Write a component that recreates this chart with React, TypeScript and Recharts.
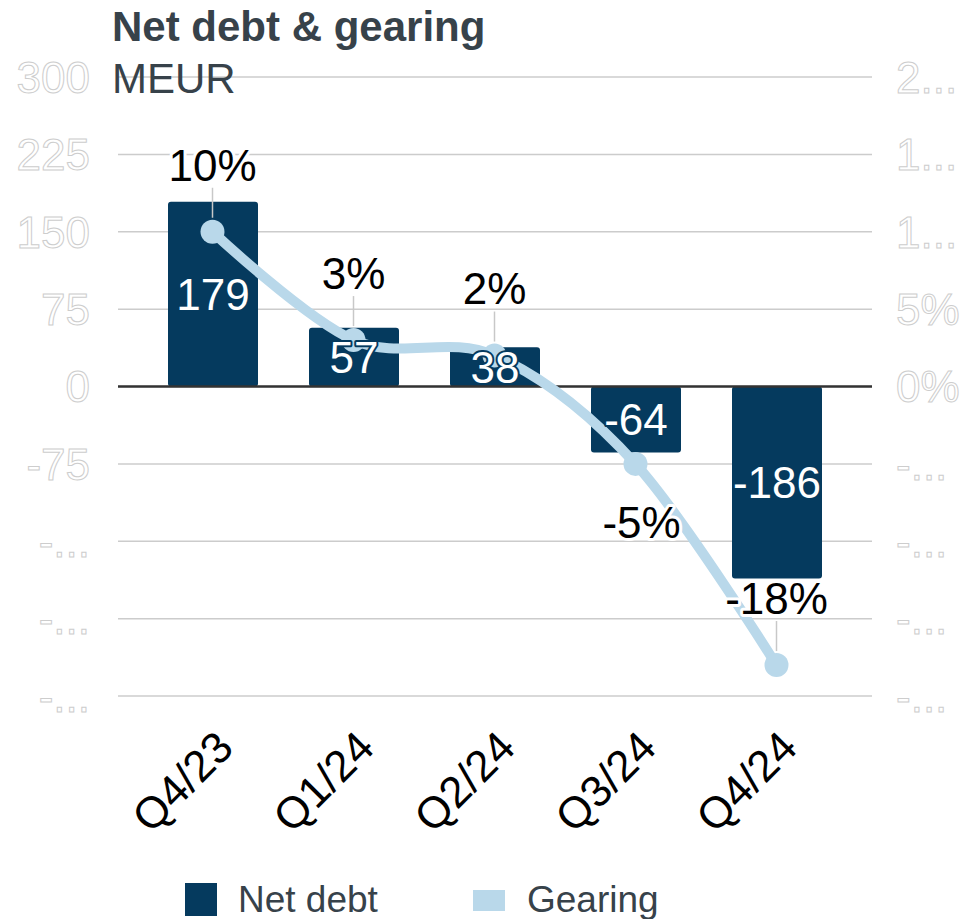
import React from 'react';
import {
  ComposedChart,
  Bar,
  Line,
  XAxis,
  YAxis,
  CartesianGrid,
  ReferenceLine,
  LabelList,
} from 'recharts';

const categories = ['Q4/23', 'Q1/24', 'Q2/24', 'Q3/24', 'Q4/24'];
const netDebt = [179, 57, 38, -64, -186];
const gearing = [10, 3, 2, -5, -18];

const leftTicks = [300, 225, 150, 75, 0, -75, -150, -225, -300];
const leftTickLabels = ['300', '225', '150', '75', '0', '-75', '-...', '-...', '-...'];
const rightTicks = [20, 15, 10, 5, 0, -5, -10, -15, -20];
const rightTickLabels = ['2...', '1...', '1...', '5%', '0%', '-...', '-...', '-...', '-...'];

const data = categories.map((cat, i) => ({
  cat,
  netDebt: netDebt[i],
  gearing: gearing[i],
}));

const NAVY = '#053a5e';
const LIGHT = '#b9d8ea';
const TEXT = '#37424a';
const FONT = '"Liberation Sans", Arial, sans-serif';

// Catmull-Rom style smoothing (like d3 curveCardinal with tension 0)
function smoothCurve(context: any) {
  const k = 1 / 6;
  const s: any = {
    _context: context,
    _line: NaN,
    _point: 0,
    _x0: NaN, _x1: NaN, _x2: NaN, _y0: NaN, _y1: NaN, _y2: NaN,
  };
  const seg = (x: number, y: number) => {
    s._context.bezierCurveTo(
      s._x1 + k * (s._x2 - s._x0),
      s._y1 + k * (s._y2 - s._y0),
      s._x2 + k * (s._x1 - x),
      s._y2 + k * (s._y1 - y),
      s._x2,
      s._y2
    );
  };
  s.areaStart = () => { s._line = 0; };
  s.areaEnd = () => { s._line = NaN; };
  s.lineStart = () => {
    s._x0 = s._x1 = s._x2 = s._y0 = s._y1 = s._y2 = NaN;
    s._point = 0;
  };
  s.lineEnd = () => {
    switch (s._point) {
      case 2: s._context.lineTo(s._x2, s._y2); break;
      case 3: seg(s._x1, s._y1); break;
    }
    if (s._line || (s._line !== 0 && s._point === 1)) s._context.closePath();
    s._line = 1 - s._line;
  };
  s.point = (xIn: number, yIn: number) => {
    const x = +xIn;
    const y = +yIn;
    switch (s._point) {
      case 0:
        s._point = 1;
        if (s._line) s._context.lineTo(x, y); else s._context.moveTo(x, y);
        break;
      case 1:
        s._point = 2;
        s._x1 = x; s._y1 = y;
        break;
      case 2:
        s._point = 3;
        seg(x, y);
        break;
      default:
        seg(x, y);
        break;
    }
    s._x0 = s._x1; s._x1 = s._x2; s._x2 = x;
    s._y0 = s._y1; s._y1 = s._y2; s._y2 = y;
  };
  return s;
}

const LeftTick = (props: any) => {
  const { x, y, payload } = props;
  const idx = leftTicks.indexOf(payload.value);
  return (
    <text
      x={x - 28}
      y={y}
      dy="0.36em"
      textAnchor="end"
      fontSize={44}
      fontFamily={FONT}
      fill="#ffffff"
      stroke="#cdcdcd"
      strokeWidth={1}
    >
      {leftTickLabels[idx]}
    </text>
  );
};

const RightTick = (props: any) => {
  const { x, y, payload } = props;
  const idx = rightTicks.indexOf(payload.value);
  return (
    <text
      x={x + 24}
      y={y}
      dy="0.36em"
      textAnchor="start"
      fontSize={44}
      fontFamily={FONT}
      fill="#ffffff"
      stroke="#cdcdcd"
      strokeWidth={1}
    >
      {rightTickLabels[idx]}
    </text>
  );
};

const XTick = (props: any) => {
  const { x, y, payload } = props;
  return (
    <text
      transform={`translate(${x + 23},${y + 54}) rotate(-45)`}
      textAnchor="end"
      fontSize={44}
      fontFamily={FONT}
      fill="#000000"
    >
      {payload.value}
    </text>
  );
};

const BarLabel = (props: any) => {
  const { x, y, width, height, value } = props;
  return (
    <text
      x={x + width / 2}
      y={y + height / 2}
      dy="0.36em"
      textAnchor="middle"
      fontSize={44}
      fontFamily={FONT}
      fill="#ffffff"
      stroke={NAVY}
      strokeWidth={4}
      paintOrder="stroke"
      strokeLinejoin="round"
    >
      {value}
    </text>
  );
};

const GearingLabel = (props: any) => {
  const { x, y, value, index } = props;
  const below = index === 3;
  const ty = below ? y + 58 : y - 67;
  return (
    <g>
      {!below && (
        <line x1={x} x2={x} y1={ty + 23} y2={y - 14} stroke="#c8c8c8" strokeWidth={1.5} />
      )}
      <text
        x={x + (below ? 6 : 0)}
        y={ty}
        dy="0.36em"
        textAnchor="middle"
        fontSize={44}
        fontFamily={FONT}
        fill="#000000"
        stroke="#ffffff"
        strokeWidth={6}
        paintOrder="stroke"
        strokeLinejoin="round"
      >
        {`${value}%`}
      </text>
    </g>
  );
};

export default function App() {
  return (
    <div
      style={{
        position: 'absolute',
        left: 0,
        top: 0,
        width: 971,
        height: 919,
        background: '#ffffff',
        fontFamily: FONT,
        overflow: 'hidden',
      }}
    >
      <ComposedChart
        width={971}
        height={919}
        data={data}
        margin={{ top: 77, right: 0, bottom: 73, left: 0 }}
      >
        <CartesianGrid
          vertical={false}
          stroke="#cccccc"
          strokeWidth={1.5}
          yAxisId="left"
        />
        <XAxis
          dataKey="cat"
          interval={0}
          axisLine={false}
          tickLine={false}
          tickSize={0}
          tickMargin={0}
          height={150}
          padding={{ left: 24, right: 25 }}
          tick={<XTick />}
        />
        <YAxis
          yAxisId="left"
          domain={[-300, 300]}
          ticks={leftTicks}
          width={118}
          axisLine={false}
          tickLine={false}
          tickSize={0}
          tickMargin={0}
          tick={<LeftTick />}
        />
        <YAxis
          yAxisId="right"
          orientation="right"
          domain={[-20, 20]}
          ticks={rightTicks}
          width={99}
          axisLine={false}
          tickLine={false}
          tickSize={0}
          tickMargin={0}
          tick={<RightTick />}
        />
        <ReferenceLine yAxisId="left" y={0} stroke="#333333" strokeWidth={2.5} />
        <Bar
          yAxisId="left"
          dataKey="netDebt"
          fill={NAVY}
          barSize={90}
          radius={3}
          isAnimationActive={false}
        >
          <LabelList dataKey="netDebt" content={<BarLabel />} />
        </Bar>
        <Line
          yAxisId="right"
          dataKey="gearing"
          type={smoothCurve as any}
          stroke={LIGHT}
          strokeWidth={10}
          dot={{ r: 12, fill: LIGHT, stroke: 'none' }}
          activeDot={false}
          isAnimationActive={false}
        >
          <LabelList dataKey="gearing" content={<GearingLabel />} />
        </Line>
      </ComposedChart>

      <div
        style={{
          position: 'absolute',
          left: 112,
          top: 2,
          fontSize: 42,
          fontWeight: 'bold',
          color: TEXT,
          lineHeight: '50px',
          whiteSpace: 'nowrap',
        }}
      >
        Net debt &amp; gearing
      </div>
      <div
        style={{
          position: 'absolute',
          left: 112,
          top: 54,
          fontSize: 42,
          color: TEXT,
          lineHeight: '50px',
          whiteSpace: 'nowrap',
        }}
      >
        MEUR
      </div>

      <div style={{ position: 'absolute', left: 185, top: 883, width: 32, height: 33, background: NAVY }} />
      <div
        style={{
          position: 'absolute',
          left: 238,
          top: 878,
          fontSize: 37,
          color: TEXT,
          lineHeight: '44px',
          whiteSpace: 'nowrap',
        }}
      >
        Net debt
      </div>
      <div style={{ position: 'absolute', left: 473, top: 890, width: 32, height: 21, background: LIGHT }} />
      <div
        style={{
          position: 'absolute',
          left: 527,
          top: 878,
          fontSize: 37,
          color: TEXT,
          lineHeight: '44px',
          whiteSpace: 'nowrap',
        }}
      >
        Gearing
      </div>
    </div>
  );
}
